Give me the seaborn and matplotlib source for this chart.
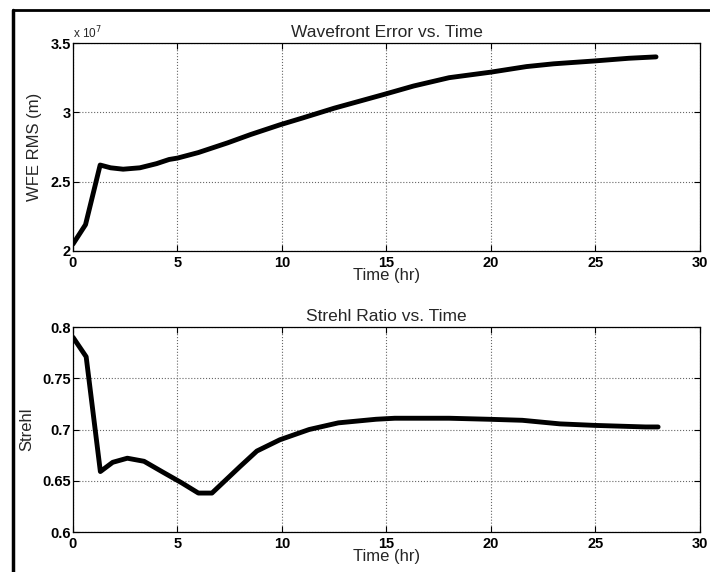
import numpy as np
import pandas as pd
import matplotlib
matplotlib.use("Agg")
import matplotlib.pyplot as plt
import seaborn as sns
from matplotlib.ticker import FuncFormatter

# wavefront error, units of 1e7 m (as labelled on the axis)
wfe_time = [0, 0.6, 1.3, 1.8, 2.4, 3.2, 4.0, 4.6, 5.0, 6.0, 7.4, 8.5, 9.9, 11.0,
            12.5, 13.7, 14.9, 16.3, 18.0, 20.0, 21.7, 23.0, 24.9, 26.6, 27.9]
wfe_rms = [2.05, 2.19, 2.62, 2.60, 2.59, 2.60, 2.63, 2.66, 2.67, 2.71, 2.78, 2.84, 2.91, 2.96,
           3.03, 3.08, 3.13, 3.19, 3.25, 3.29, 3.33, 3.35, 3.37, 3.39, 3.40]

strehl_time = [0, 0.63, 1.31, 1.9, 2.6, 3.4, 4.25, 5.2, 6.0, 6.65, 8.0, 8.8, 9.9,
               11.3, 12.7, 14.5, 15.4, 18.0, 19.9, 21.5, 23.3, 25.0, 27.4, 28.0]
strehl = [0.790, 0.771, 0.659, 0.668, 0.672, 0.669, 0.659, 0.648, 0.638, 0.638, 0.664, 0.679, 0.690,
          0.700, 0.7065, 0.710, 0.711, 0.711, 0.710, 0.709, 0.7055, 0.704, 0.7025, 0.7025]

xticks = [0, 5, 10, 15, 20, 25, 30]
wfe_yticks = [2, 2.5, 3, 3.5]
strehl_yticks = [0.6, 0.65, 0.7, 0.75, 0.8]

sns.set_style("ticks")
plt.rcParams['font.family'] = ['Liberation Sans', 'DejaVu Sans']

fig = plt.figure(figsize=(7.1, 5.72), dpi=100)
ax1 = fig.add_axes([0.1028, 0.5612, 0.883, 0.3636])
ax2 = fig.add_axes([0.1028, 0.0699, 0.883, 0.3584])

df1 = pd.DataFrame({'t': wfe_time, 'v': wfe_rms})
df2 = pd.DataFrame({'t': strehl_time, 'v': strehl})
sns.lineplot(data=df1, x='t', y='v', ax=ax1, color='black', linewidth=3.5)
sns.lineplot(data=df2, x='t', y='v', ax=ax2, color='black', linewidth=3.5)

fmt = FuncFormatter(lambda v, p: '%g' % v)
for ax, yt in [(ax1, wfe_yticks), (ax2, strehl_yticks)]:
    ax.set_xlim(0, 30)
    ax.set_ylim(yt[0], yt[-1])
    ax.set_xticks(xticks)
    ax.set_yticks(yt)
    ax.xaxis.set_major_formatter(fmt)
    ax.yaxis.set_major_formatter(fmt)
    ax.grid(True, linestyle=':', color='#666666', linewidth=0.8)
    ax.tick_params(direction='in', top=True, right=True, length=4, labelsize=10.5,
                   colors='black')
    ax.tick_params(axis='y', pad=1.5)
    ax.tick_params(axis='x', pad=3.5)
    for lab in ax.get_xticklabels() + ax.get_yticklabels():
        lab.set_fontweight('bold')
    for s in ax.spines.values():
        s.set_visible(True)
        s.set_color('black')
        s.set_linewidth(0.9)
    ax.set_xlabel('Time (hr)', fontsize=12, labelpad=-1)

ax1.set_title('Wavefront Error vs. Time', fontsize=12.5, pad=4)
ax1.set_ylabel('WFE RMS (m)', fontsize=12, labelpad=6)
ax1.text(0.0, 1.01, r'x 10$^7$', transform=ax1.transAxes, fontsize=8.5, va='bottom')
ax2.set_title('Strehl Ratio vs. Time', fontsize=12.5, pad=4)
ax2.set_ylabel('Strehl', fontsize=12, labelpad=6)

# scanned page frame
fig.add_artist(plt.Line2D([13 / 710, 13 / 710], [0, 1 - 10 / 572], color='black', linewidth=2.5))
fig.add_artist(plt.Line2D([13 / 710, 1], [1 - 10 / 572, 1 - 10 / 572], color='black', linewidth=2.0))

fig.savefig('out.png', dpi=100)
